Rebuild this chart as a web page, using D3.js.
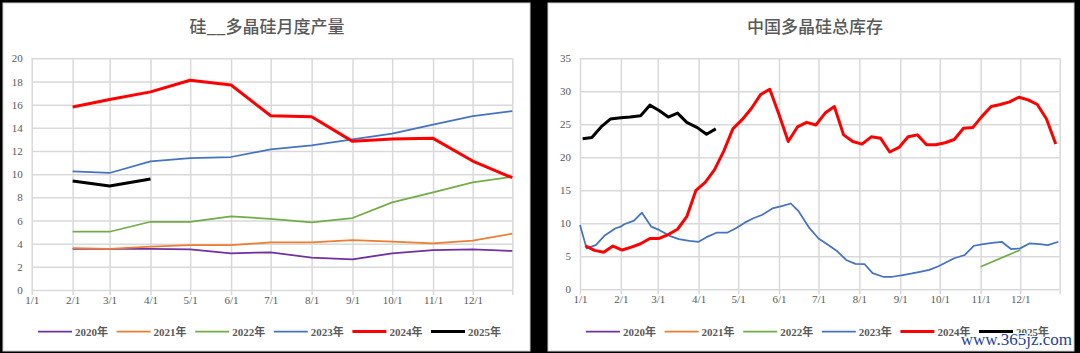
<!DOCTYPE html>
<html>
<head>
<meta charset="utf-8">
<script src="https://cdn.jsdelivr.net/npm/d3@7"></script>
<style>
  body { margin: 0; background: #000; }
  svg { display: block; }
  .tick text { font-family: "Liberation Serif", "DejaVu Serif", serif; font-size: 11px; fill: #595959; }
  .title { font-family: "Noto Sans CJK SC", sans-serif; font-size: 17px; font-weight: 500; fill: #595959; }
  .legend text { font-family: "Liberation Serif", "Noto Sans CJK SC", serif; font-size: 11px; font-weight: bold; fill: #595959; }
</style>
</head>
<body>
<svg width="1080" height="353"></svg>
<script>
// shared
const years = ["2020年", "2021年", "2022年", "2023年", "2024年", "2025年"];
const colors = ["#7030A0", "#ED7D31", "#70AD47", "#4472C4", "#FF0000", "#000000"];
const widths = [1.75, 1.75, 1.75, 1.75, 3, 3];
const monthTicks = ["1/1", "2/1", "3/1", "4/1", "5/1", "6/1", "7/1", "8/1", "9/1", "10/1", "11/1", "12/1"];

// left: monthly output
const prodTitle = "硅__多晶硅月度产量";
const prodTicks = [0, 2, 4, 6, 8, 10, 12, 14, 16, 18, 20];
const prodDates = ["2/1", "3/1", "4/1", "5/1", "6/1", "7/1", "8/1", "9/1", "10/1", "11/1", "12/1", "12/31"];
const prod2020 = [3.54, 3.54, 3.54, 3.51, 3.17, 3.25, 2.79, 2.65, 3.17, 3.45, 3.51, 3.37];
const prod2021 = [3.62, 3.54, 3.74, 3.88, 3.88, 4.11, 4.11, 4.31, 4.17, 4.03, 4.26, 4.86];
const prod2022 = [5.03, 5.03, 5.89, 5.89, 6.36, 6.13, 5.84, 6.21, 7.56, 8.43, 9.29, 9.78];
const prod2023 = [10.24, 10.1, 11.1, 11.39, 11.48, 12.14, 12.48, 13.0, 13.49, 14.27, 15.01, 15.44];
const prod2024 = [15.8, 16.45, 17.1, 18.1, 17.7, 15.04, 14.95, 12.83, 13.03, 13.09, 11.13, 9.69];
const prod2025 = [9.4, 8.97, 9.58];

// right: total inventory (weekly)
const invTitle = "中国多晶硅总库存";
const invTicks = [0, 5, 10, 15, 20, 25, 30, 35];
const invDates2022 = ["11/1", "12/1"];
const inv2022 = [3.42, 5.96];
const invDates2023 = ["1/1", "1/6", "1/13", "1/20", "1/28", "2/1", "2/4", "2/11", "2/17", "2/24",
  "3/2", "3/10", "3/17", "3/25", "4/1", "4/7", "4/15", "4/23", "4/29", "5/6", "5/13", "5/19",
  "5/27", "6/3", "6/10", "6/16", "6/24", "7/1", "7/7", "7/15", "7/22", "7/29", "8/5", "8/11",
  "8/19", "8/26", "9/3", "9/10", "9/16", "9/23", "9/30", "10/6", "10/12", "10/20", "10/27",
  "11/3", "11/10", "11/17", "11/24", "12/1", "12/8", "12/16", "12/22", "12/30"];
const inv2023 = [9.75, 6.2, 6.7, 8.2, 9.25, 9.5, 9.9, 10.4, 11.6, 9.5,
  9.0, 8.1, 7.6, 7.35, 7.2, 7.9, 8.6, 8.6, 9.2, 10.1, 10.8, 11.25,
  12.25, 12.6, 13.0, 11.8, 9.3, 7.7, 6.9, 5.8, 4.45, 3.85, 3.8, 2.45,
  1.9, 1.9, 2.15, 2.4, 2.65, 2.95, 3.5, 4.1, 4.7, 5.2, 6.6,
  6.85, 7.05, 7.2, 6.1, 6.2, 6.95, 6.85, 6.7, 7.2];
const invDates2024 = ["1/5", "1/12", "1/19", "1/26", "2/2", "2/9", "2/16", "2/23", "3/2", "3/9",
  "3/16", "3/23", "3/30", "4/6", "4/13", "4/20", "4/27", "5/4", "5/11", "5/18", "5/25", "6/1",
  "6/8", "6/15", "6/22", "6/29", "7/6", "7/13", "7/20", "7/27", "8/3", "8/10", "8/17", "8/24",
  "8/31", "9/7", "9/14", "9/21", "9/28", "10/5", "10/12", "10/19", "10/26", "11/2", "11/9",
  "11/16", "11/23", "11/30", "12/7", "12/14", "12/21", "12/28"];
const inv2024 = [6.6, 5.9, 5.6, 6.55, 5.95, 6.4, 6.9, 7.7, 7.7, 8.3,
  9.1, 11.0, 15.0, 16.2, 18.1, 20.9, 24.3, 25.7, 27.4, 29.5, 30.3, 26.5,
  22.4, 24.6, 25.3, 24.9, 26.7, 27.7, 23.4, 22.4, 22.0, 23.1, 22.9, 20.8,
  21.5, 23.1, 23.4, 21.9, 21.9, 22.2, 22.7, 24.4, 24.5, 26.2, 27.7,
  28.0, 28.4, 29.1, 28.7, 28.0, 25.8, 22.0];
const invDates2025 = ["1/3", "1/10", "1/17", "1/24", "2/1", "2/8", "2/16", "2/23", "3/2", "3/9",
  "3/16", "3/23", "3/31", "4/7", "4/14"];
const inv2025 = [22.8, 23.0, 24.6, 25.8, 26.0, 26.1, 26.3, 27.9, 27.1, 26.1,
  26.7, 25.3, 24.5, 23.5, 24.3];

function parse(s) {
  let [m, d] = s.split("/");
  return new Date(2021, +m - 1, +d);
}

function zip(dates, vals) {
  return vals.map((v, i) => ({date: parse(dates[i]), v: v}));
}

let svg = d3.select("svg");

// panels
svg.append("rect").attr("x", 3).attr("y", 3).attr("width", 527).attr("height", 348)
  .attr("fill", "#fff").attr("stroke", "#d0d0d0");
svg.append("rect").attr("x", 548).attr("y", 3).attr("width", 526).attr("height", 348)
  .attr("fill", "#fff").attr("stroke", "#d0d0d0");

function drawChart(opt) {
  let g = svg.append("g");
  let x = d3.scaleTime().domain([parse("1/1"), parse("12/31")]).range([opt.x0, opt.x1]);
  let y = d3.scaleLinear().domain([0, opt.yTicks[opt.yTicks.length - 1]]).range([opt.y0, opt.y1]);

  g.append("g")
      .attr("transform", "translate(" + opt.x0 + ",0)")
      .call(d3.axisLeft(y).tickValues(opt.yTicks).tickSize(-(opt.x1 - opt.x0)).tickPadding(9))
      .call(a => a.select(".domain").remove())
      .call(a => a.selectAll("line").attr("stroke", "#d9d9d9").attr("stroke-width", 1.5));

  let xt = monthTicks.map(parse).concat([parse("12/31")]);
  g.append("g")
      .attr("transform", "translate(0," + opt.y0 + ")")
      .call(d3.axisBottom(x).tickValues(xt).tickSize(-(opt.y0 - opt.y1)).tickPadding(6)
        .tickFormat((d, i) => i < monthTicks.length ? monthTicks[i] : ""))
      .call(a => a.select(".domain").remove())
      .call(a => a.selectAll("line").attr("y1", 5).attr("stroke", "#d9d9d9").attr("stroke-width", 1.5));

  let line = d3.line().x(d => x(d.date)).y(d => y(d.v));

  opt.series.forEach((s, i) => {
    if (!s) return;
    g.append("path")
        .datum(s)
        .attr("fill", "none")
        .attr("stroke", colors[i])
        .attr("stroke-width", widths[i])
        .attr("stroke-linejoin", "round")
        .attr("d", line);
  });

  g.append("text")
      .attr("class", "title")
      .attr("x", opt.titleX)
      .attr("y", 33)
      .attr("text-anchor", "middle")
      .text(opt.title);

  let legend = g.selectAll(".legend")
      .data(years)
    .enter().append("g")
      .attr("class", "legend")
      .attr("transform", (d, i) => "translate(" + (opt.legendX + i * 78.6) + ",331.5)");

  legend.append("line")
      .attr("x1", 0).attr("x2", 34)
      .attr("stroke", (d, i) => colors[i])
      .attr("stroke-width", (d, i) => widths[i]);

  legend.append("text")
      .attr("x", 37)
      .attr("y", 4)
      .text(d => d);
}

drawChart({
  x0: 31.7, x1: 512.3, y0: 290, y1: 58.3,
  yTicks: prodTicks,
  title: prodTitle, titleX: 267, legendX: 38,
  series: [
    zip(prodDates, prod2020),
    zip(prodDates, prod2021),
    zip(prodDates, prod2022),
    zip(prodDates, prod2023),
    zip(prodDates, prod2024),
    zip(prodDates, prod2025)
  ]
});

drawChart({
  x0: 580, x1: 1059.7, y0: 289.3, y1: 58.3,
  yTicks: invTicks,
  title: invTitle, titleX: 815, legendX: 586,
  series: [
    null,
    null,
    zip(invDates2022, inv2022),
    zip(invDates2023, inv2023),
    zip(invDates2024, inv2024),
    zip(invDates2025, inv2025)
  ]
});

// watermark
svg.append("text")
    .attr("x", 1072)
    .attr("y", 345)
    .attr("text-anchor", "end")
    .attr("font-family", "Liberation Serif, serif")
    .attr("font-size", 17)
    .attr("fill", "#1f3f9a")
    .attr("stroke", "#fff")
    .attr("stroke-width", 2)
    .attr("paint-order", "stroke")
    .text("www.365jz.com");
</script>
</body>
</html>
